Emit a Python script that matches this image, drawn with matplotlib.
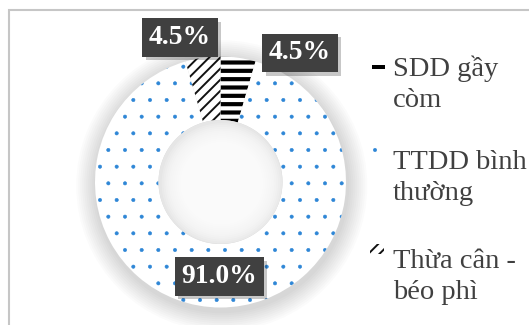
import numpy as np
import matplotlib.pyplot as plt
import matplotlib.patheffects as pe
from matplotlib.patches import Circle, Rectangle

labels = ['SDD gầy\ncòm', 'TTDD bình\nthường', 'Thừa cân -\nbéo phì']
values = [4.5, 91.0, 4.5]
pct_text = ['4.5%', '91.0%', '4.5%']

hatches = ['--', '.', '///']
hatch_cols = ['#000000', '#2e86d6', '#111111']
hatch_lw = [3.0, 0.4, 1.4]
# where the data label boxes sit (ring radius = 1)
label_pos = [(0.633, 1.028), (-0.008, -0.753), (-0.323, 1.151)]

W, H = 529, 325
fig = plt.figure(figsize=(W / 100, H / 100), dpi=100)
cx, cy, R = 220.5, H - 182, 125.5
half = 200
ax = fig.add_axes([(cx - half) / W, (cy - half) / H, 2 * half / W, 2 * half / H])

def set_hatch(p, h, col, lw):
    p.set_facecolor('white')
    p.set_hatch(h)
    p.set_edgecolor(col)
    p.set_linewidth(0)
    if hasattr(p, 'set_hatch_linewidth'):
        p.set_hatch_linewidth(lw)
    else:
        p._hatch_linewidth = lw

# soft drop shadow under the ring
for i in range(10):
    ax.add_patch(Circle((0.01, -0.03), 1.0 + 0.016 * (i + 1), fc='black',
                        alpha=0.014, lw=0, zorder=0.5))

r_in = 62 / R
wedges, _ = ax.pie(values, startangle=90, counterclock=False, radius=1,
                   wedgeprops=dict(width=1 - r_in, linewidth=0))
for w, h, c, lw in zip(wedges, hatches, hatch_cols, hatch_lw):
    set_hatch(w, h, c, lw)

# shaded hole
ax.add_patch(Circle((0, 0), r_in, fc='#e6e6e6', lw=0, zorder=2))
for i in range(12):
    ax.add_patch(Circle((0.01, -0.01), r_in * (0.97 - 0.03 * i), fc='white',
                        alpha=0.18, lw=0, zorder=2))

ax.set_xlim(-half / R, half / R)
ax.set_ylim(-half / R, half / R)
ax.axis('off')

for (x, y), t in zip(label_pos, pct_text):
    txt = ax.text(x, y, t, ha='center', va='center', fontsize=19.8, weight='bold',
                  family='Liberation Serif', color='white',
                  bbox=dict(boxstyle='square,pad=0.24', fc='#404040', ec='none'),
                  zorder=5)
    txt.get_bbox_patch().set_path_effects(
        [pe.SimplePatchShadow(offset=(2.5, -2.5), shadow_rgbFace='black', alpha=0.22),
         pe.Normal()])

# legend, drawn by hand so the key sits on the first line
base_y = [76, 169, 268]
for lab, b in zip(labels, base_y):
    for k, line in enumerate(lab.split('\n')):
        fig.text(393 / W, 1 - (b + 31 * k) / H, line, ha='left', va='baseline',
                 fontsize=20.5, family='Liberation Serif', color='#404040')

key1 = Rectangle((372 / W, 1 - 69 / H), 13 / W, 4 / H, transform=fig.transFigure,
                 fc='black', lw=0)
key2 = Rectangle((369 / W, 1 - 164 / H), 16 / W, 16 / H, transform=fig.transFigure)
set_hatch(key2, hatches[1], hatch_cols[1], hatch_lw[1])
key3 = Rectangle((370 / W, 1 - 254 / H), 14 / W, 10 / H, transform=fig.transFigure)
set_hatch(key3, hatches[2], hatch_cols[2], hatch_lw[2])
for k in (key1, key2, key3):
    fig.add_artist(k)

fig.add_artist(Rectangle((9 / W, -0.05), 1.2, (H - 10) / H + 0.05,
                         transform=fig.transFigure, fill=False,
                         ec='#c6c6c6', lw=1.5))

fig.savefig('out.png', dpi=100)
